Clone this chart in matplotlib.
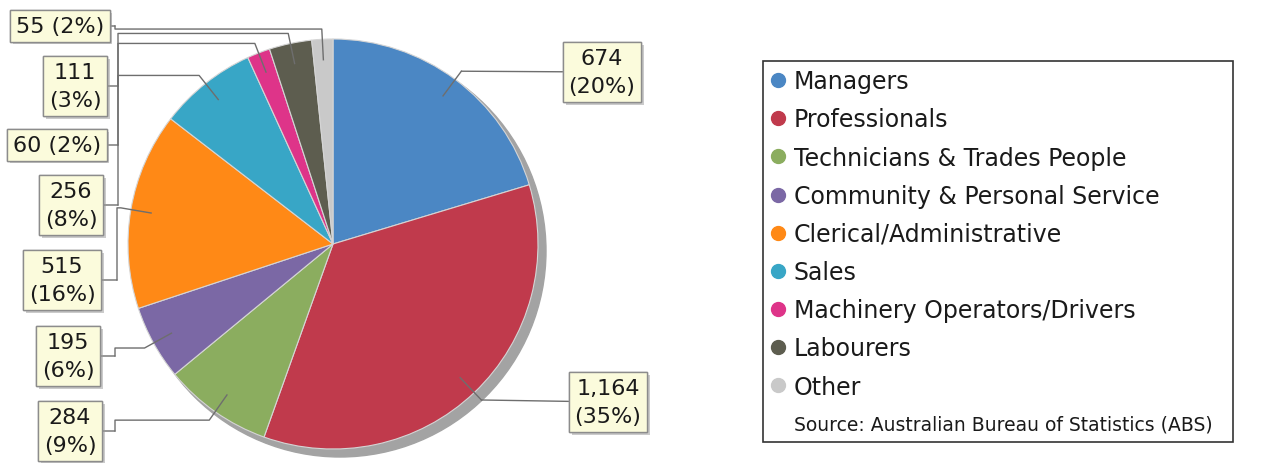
import numpy as np
import matplotlib.pyplot as plt
from matplotlib.lines import Line2D
from matplotlib.patches import Circle
import matplotlib.patheffects as pe

# Datos: ocupaciones (ABS)
categorias = ['Managers', 'Professionals', 'Technicians & Trades People',
              'Community & Personal Service', 'Clerical/Administrative', 'Sales',
              'Machinery Operators/Drivers', 'Labourers', 'Other']
valores = [674, 1164, 284, 195, 515, 256, 60, 111, 55]
colores = ['#4b87c4', '#c03a4c', '#8bad5f', '#7b68a5', '#ff8916',
           '#38a6c6', '#de3489', '#5d5d4f', '#c9c9c9']
fuente = 'Source: Australian Bureau of Statistics (ABS)'

# Layout en pixeles (y hacia arriba)
W, H = 1267, 464
centro = (333, H - 245)
radio = 205

# posicion de cada caja de etiqueta (centro) y x de la linea vertical (None = lado derecho)
cajas = [(602, H - 73), (608, H - 403), (70, H - 432), (68, H - 357), (62, H - 281),
         (71, H - 206), (57, H - 146), (75, H - 87), (60, H - 27)]
x_vert = [None, None, 115, 115, 117, 118, 118, 118, 115]
una_linea = [False, False, False, False, False, False, True, False, True]

fig = plt.figure(figsize=(W / 100, H / 100), dpi=100)
ax = fig.add_axes([0, 0, 1, 1])

# sombra del pastel
ax.add_patch(Circle((centro[0] + 7, centro[1] - 7), radio + 1, color='#a3a3a3', zorder=0.5))

wedges, _ = ax.pie(valores, colors=colores, startangle=90, counterclock=False,
                   center=centro, radius=radio,
                   wedgeprops=dict(edgecolor='#d5d5d5', linewidth=0.8))

total = sum(valores)
for w, v, caja, xv, una in zip(wedges, valores, cajas, x_vert, una_linea):
    ang = np.deg2rad((w.theta1 + w.theta2) / 2)
    p0 = (centro[0] + 0.9 * radio * np.cos(ang), centro[1] + 0.9 * radio * np.sin(ang))
    p1 = (centro[0] + 1.05 * radio * np.cos(ang), centro[1] + 1.05 * radio * np.sin(ang))
    xs, ys = [p0[0], p1[0]], [p0[1], p1[1]]
    if xv is not None:
        xs += [xv, xv]
        ys += [p1[1], caja[1]]
    ax.plot(xs, ys, color='#6e6e6e', lw=1, zorder=3)
    pct = round(100 * v / total)
    sep = ' ' if una else '\n'
    texto = f'{v:,}{sep}({pct}%)'
    t = ax.annotate(texto, xy=(xs[-1], ys[-1]), xytext=caja, ha='center', va='center',
                    fontsize=16, linespacing=1.55, color='#1a1a1a', zorder=4,
                    bbox=dict(boxstyle='square,pad=0.25', fc='#fbfbdc', ec='#8c8c8c', lw=1),
                    arrowprops=dict(arrowstyle='-', color='#6e6e6e', lw=1,
                                    shrinkA=0, shrinkB=0))
    t.get_bbox_patch().set_path_effects([pe.withSimplePatchShadow(offset=(2, -2),
                                         shadow_rgbFace='#999999', alpha=0.5), pe.Normal()])

# leyenda
handles = [Line2D([], [], marker='o', ls='', color=c, markersize=10) for c in colores]
handles.append(Line2D([], [], ls='', marker=''))
leg = ax.legend(handles, categorias + [fuente], loc='upper left',
                bbox_to_anchor=(763, H - 72, 470, 10), bbox_transform=ax.transData,
                mode='expand', fontsize=17, labelspacing=0.6, handlelength=0.6,
                handletextpad=0.35, borderpad=0.35, borderaxespad=0, fancybox=False,
                edgecolor='#333333', framealpha=1)
leg.get_frame().set_linewidth(1.2)
for txt in leg.get_texts():
    txt.set_color('#1a1a1a')
leg.get_texts()[-1].set_fontsize(13.5)

ax.set_xlim(0, W)
ax.set_ylim(0, H)
ax.set_aspect('equal')
ax.axis('off')

plt.savefig('out.png', dpi=100)
